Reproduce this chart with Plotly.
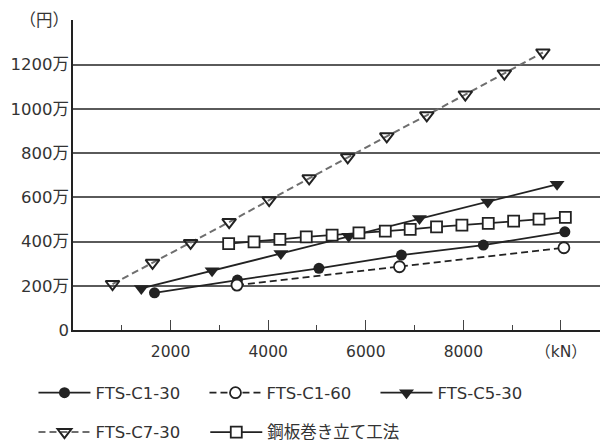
import plotly.graph_objects as go

# values in 万円, load in kN
c130_x = [1670, 3370, 5040, 6730, 8410, 10080]
c130_y = [168, 226, 279, 339, 384, 444]
c160_x = [3360, 6690, 10060]
c160_y = [203, 286, 372]
c530_x = [1400, 2850, 4260, 5650, 7100, 8500, 9920]
c530_y = [188, 268, 346, 424, 504, 579, 659]
c730_x = [810, 1630, 2410, 3200, 4020, 4840, 5630, 6430, 7250, 8040, 8840, 9630]
c730_y = [208, 304, 394, 488, 587, 686, 781, 876, 971, 1065, 1160, 1255]
steel_x = [3190, 3710, 4240, 4780, 5310, 5860, 6400, 6910, 7450, 7970, 8510, 9030, 9550, 10090]
steel_y = [391, 399, 410, 421, 429, 439, 447, 455, 466, 474, 482, 492, 501, 509]

y_ticks = [0, 200, 400, 600, 800, 1000, 1200, 1400]
y_labels = ["0", "200万", "400万", "600万", "800万", "1000万", "1200万", "（円）"]
x_ticks = [2000, 4000, 6000, 8000, 10000]
x_labels = ["2000", "4000", "6000", "8000", "（kN）"]
x_minor = [1000, 3000, 5000, 7000, 9000]

FONT = "DejaVu Sans, Noto Sans CJK JP"
INK = "#222222"

fig = go.Figure()

fig.add_trace(go.Scatter(
    x=c730_x, y=c730_y, name="FTS-C7-30", mode="lines+markers",
    line=dict(color="#6e6e6e", width=2, dash="7px,4px"),
    marker=dict(symbol="triangle-down-open", size=12, color=INK, line=dict(width=2)),
    legend="legend2"))
fig.add_trace(go.Scatter(
    x=c130_x, y=c130_y, name="FTS-C1-30", mode="lines+markers",
    line=dict(color=INK, width=1.8),
    marker=dict(symbol="circle", size=11, color=INK),
    legend="legend", legendrank=1))
fig.add_trace(go.Scatter(
    x=c160_x, y=c160_y, name="FTS-C1-60", mode="lines+markers",
    line=dict(color=INK, width=1.8, dash="7px,4px"),
    marker=dict(symbol="circle", size=11, color="white", line=dict(color=INK, width=1.8)),
    legend="legend", legendrank=2))
fig.add_trace(go.Scatter(
    x=c530_x, y=c530_y, name="FTS-C5-30", mode="lines+markers",
    line=dict(color=INK, width=1.8),
    marker=dict(symbol="triangle-down", size=13, color=INK),
    legend="legend", legendrank=3))
fig.add_trace(go.Scatter(
    x=steel_x, y=steel_y, name="鋼板巻き立て工法", mode="lines+markers",
    line=dict(color=INK, width=1.8),
    marker=dict(symbol="square", size=11, color="white", line=dict(color=INK, width=1.8)),
    legend="legend3"))

legend_common = dict(
    orientation="h", xanchor="left", yanchor="middle",
    font=dict(family=FONT, size=16.5, color="#333333"),
    itemwidth=52,
    bgcolor="rgba(0,0,0,0)",
)

fig.update_layout(
    width=603, height=444,
    margin=dict(l=73, r=3, t=20, b=114, autoexpand=False),
    paper_bgcolor="white", plot_bgcolor="white",
    font=dict(family=FONT, color="#333333"),
    legend=dict(x=-0.075, y=-0.203, entrywidth=104, entrywidthmode="pixels", **legend_common),
    legend2=dict(x=-0.075, y=-0.33, **legend_common),
    legend3=dict(x=0.251, y=-0.33, **legend_common),
    xaxis=dict(
        range=[0, 10800], showgrid=False, zeroline=False,
        showline=True, linecolor=INK, linewidth=1.5,
        tickmode="array", tickvals=x_ticks, ticktext=x_labels,
        ticks="inside", ticklen=10, tickwidth=1.2, tickcolor="#444444",
        ticklabelstandoff=7,
        tickfont=dict(family=FONT, size=15.5, color="#333333"),
        minor=dict(tickvals=x_minor, ticks="inside", ticklen=5, tickwidth=1.2,
                   tickcolor="#444444", showgrid=False),
    ),
    yaxis=dict(
        range=[0, 1402], showgrid=True, gridcolor="#5a5a5a", gridwidth=1.5,
        zeroline=False, showline=True, linecolor=INK, linewidth=1.5,
        tickmode="array", tickvals=y_ticks, ticktext=y_labels,
        ticks="", ticklabelstandoff=-1,
        tickfont=dict(family=FONT, size=16.5, color="#333333"),
    ),
)

fig.write_html("out.html")
